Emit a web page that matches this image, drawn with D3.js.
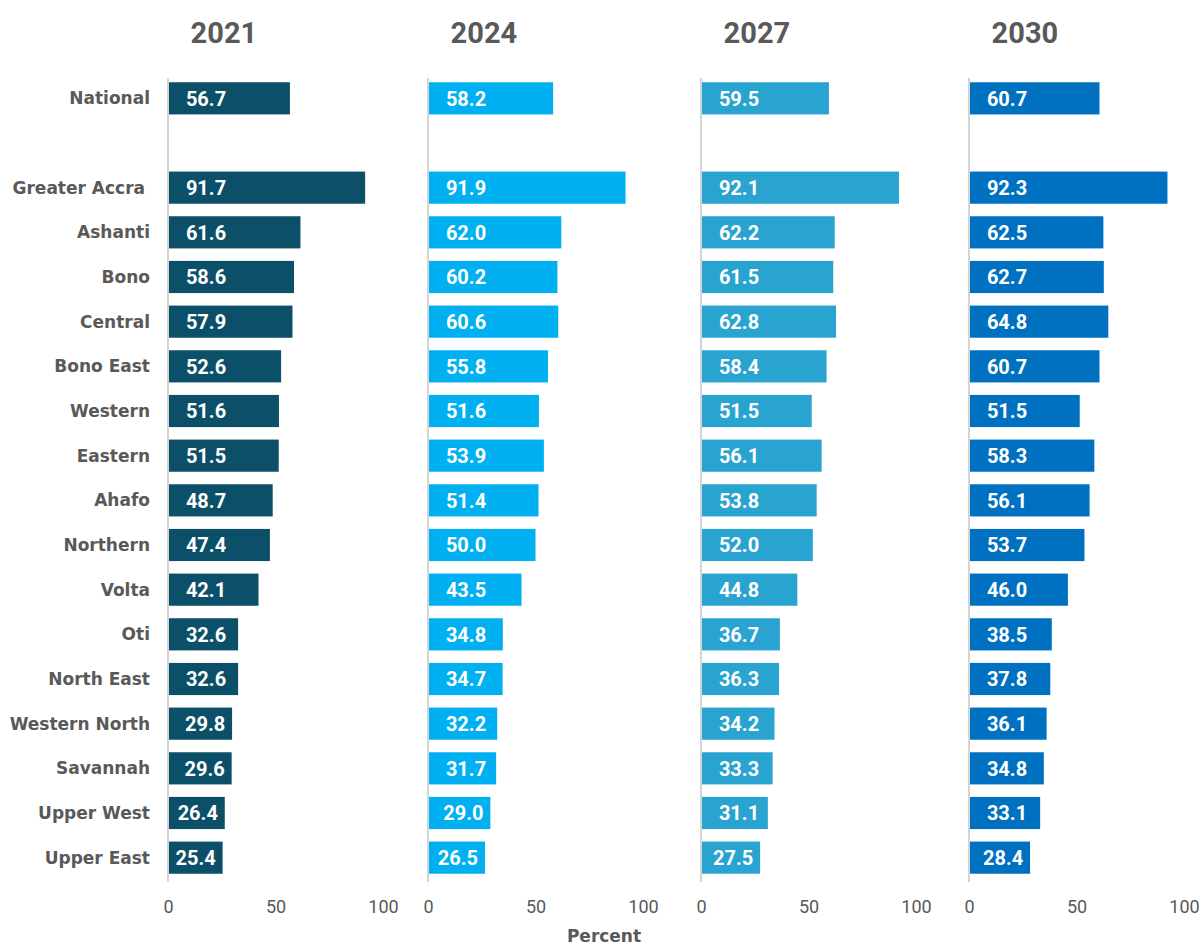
<!DOCTYPE html>
<html>
<head>
<meta charset="utf-8">
<script src="https://cdn.jsdelivr.net/npm/d3@7"></script>
<style>
  body { margin: 0; background: #fff; }
</style>
</head>
<body>
<script>
// Données
const regions = ["National", "Greater Accra", "Ashanti", "Bono", "Central", "Bono East", "Western",
  "Eastern", "Ahafo", "Northern", "Volta", "Oti", "North East", "Western North", "Savannah",
  "Upper West", "Upper East"]
const years = ["2021", "2024", "2027", "2030"]
const v2021 = [56.7, 91.7, 61.6, 58.6, 57.9, 52.6, 51.6, 51.5, 48.7, 47.4, 42.1, 32.6, 32.6, 29.8, 29.6, 26.4, 25.4]
const v2024 = [58.2, 91.9, 62.0, 60.2, 60.6, 55.8, 51.6, 53.9, 51.4, 50.0, 43.5, 34.8, 34.7, 32.2, 31.7, 29.0, 26.5]
const v2027 = [59.5, 92.1, 62.2, 61.5, 62.8, 58.4, 51.5, 56.1, 53.8, 52.0, 44.8, 36.7, 36.3, 34.2, 33.3, 31.1, 27.5]
const v2030 = [60.7, 92.3, 62.5, 62.7, 64.8, 60.7, 51.5, 58.3, 56.1, 53.7, 46.0, 38.5, 37.8, 36.1, 34.8, 33.1, 28.4]
const ticks = [0, 50, 100]
const colors = ["#0B4F69", "#00B0F0", "#29A3CF", "#0070C0"]

const series = [v2021, v2024, v2027, v2030]
const panelX = [168, 428, 701, 969] // position de l'axe de chaque panneau
const panelW = 215
const grey = '#595959'

const svg = d3.select('body')
  .append('svg')
  .attr('width', 1203)
  .attr('height', 945)

// Lignes : "National", puis une ligne vide, puis les régions
const rows = [regions[0], "_gap", ...regions.slice(1)]
const y = d3.scaleBand()
  .domain(rows)
  .range([76, 880])
  .paddingInner(0.28)
  .paddingOuter(0.14)

// Étiquettes des régions
svg.append('g')
  .selectAll('text')
  .data(regions)
  .enter()
  .append('text')
    .attr('x', d => d === 'Greater Accra' ? 145 : 150)
    .attr('y', d => y(d) + y.bandwidth() / 2)
    .attr('dy', '0.36em')
    .attr('text-anchor', 'end')
    .attr('font-family', '"DejaVu Sans", sans-serif')
    .attr('font-weight', 'bold')
    .attr('font-size', 17)
    .attr('fill', grey)
    .text(d => d)

series.forEach((vals, i) => {
  const x = d3.scaleLinear().domain([0, 100]).range([panelX[i], panelX[i] + panelW])
  const g = svg.append('g')

  // titre
  g.append('text')
    .attr('x', x(26))
    .attr('y', 43)
    .attr('text-anchor', 'middle')
    .attr('font-family', 'Roboto, sans-serif')
    .attr('font-weight', 'bold')
    .attr('font-size', 29)
    .attr('fill', grey)
    .text(years[i])

  // barres
  g.selectAll('rect')
    .data(vals)
    .enter()
    .append('rect')
      .attr('x', x(0) + 1)
      .attr('y', (d, j) => y(regions[j]))
      .attr('width', d => x(d) - x(0) - 1)
      .attr('height', y.bandwidth())
      .attr('fill', colors[i])

  // valeurs
  g.selectAll('.val')
    .data(vals)
    .enter()
    .append('text')
      .attr('class', 'val')
      .attr('x', d => Math.min(x(0) + 38, x(d) - 27))
      .attr('y', (d, j) => y(regions[j]) + y.bandwidth() / 2)
      .attr('dy', '0.36em')
      .attr('text-anchor', 'middle')
      .attr('font-family', 'Roboto, sans-serif')
      .attr('font-weight', 'bold')
      .attr('font-size', 20)
      .attr('fill', '#fff')
      .text(d => d.toFixed(1))

  // axe vertical
  g.append('line')
    .attr('x1', x(0)).attr('x2', x(0))
    .attr('y1', 78).attr('y2', 882)
    .attr('stroke', '#d4d4d4')
    .attr('stroke-width', 2)

  // graduations
  const axis = d3.axisBottom(x).tickValues(ticks).tickSize(0).tickPadding(0)
  const ga = g.append('g').attr('transform', 'translate(0, 900)').call(axis)
  ga.select('.domain').remove()
  ga.selectAll('text')
    .attr('font-size', 18)
    .attr('font-family', 'Roboto, sans-serif')
    .attr('fill', grey)
    .attr('dy', '0.71em')
})

// titre de l'axe
svg.append('text')
  .attr('x', 604)
  .attr('y', 942)
  .attr('text-anchor', 'middle')
  .attr('font-family', '"DejaVu Sans", sans-serif')
  .attr('font-weight', 'bold')
  .attr('font-size', 17)
  .attr('fill', grey)
  .text('Percent')
</script>
</body>
</html>
